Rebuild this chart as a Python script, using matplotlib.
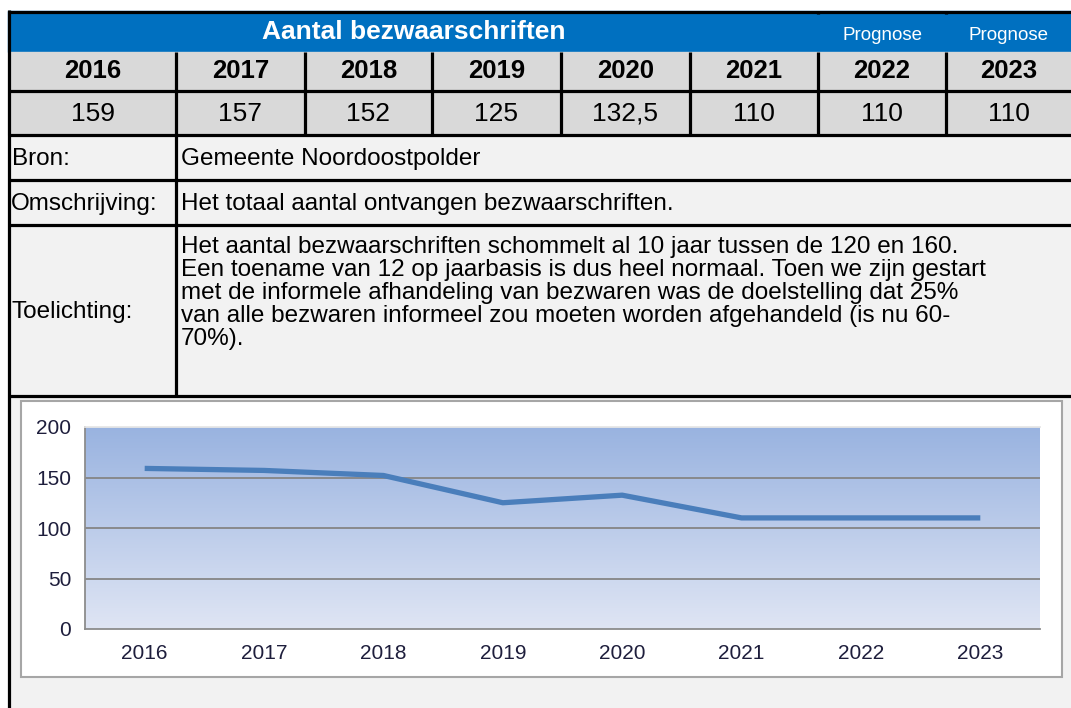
import matplotlib

matplotlib.use("Agg")

import matplotlib.pyplot as plt
import numpy as np
from matplotlib.colors import LinearSegmentedColormap
from matplotlib.patches import Rectangle

YEARS = ["2016", "2017", "2018", "2019", "2020", "2021", "2022", "2023"]
COUNTS = [159, 157, 152, 125, 132.5, 110, 110, 110]
COUNT_LABELS = ["159", "157", "152", "125", "132,5", "110", "110", "110"]
PROGNOSIS = [False, False, False, False, False, False, True, True]

TITLE = "Aantal bezwaarschriften"
SOURCE = "Gemeente Noordoostpolder"
DESCRIPTION = "Het totaal aantal ontvangen bezwaarschriften."
NOTE_LINES = [
    "Het aantal bezwaarschriften schommelt al 10 jaar tussen de 120 en 160.",
    "Een toename van 12 op jaarbasis is dus heel normaal. Toen we zijn gestart",
    "met de informele afhandeling van bezwaren was de doelstelling dat 25%",
    "van alle bezwaren informeel zou moeten worden afgehandeld (is nu 60-",
    "70%).",
]
Y_TICKS = [0, 50, 100, 150, 200]

W, H = 1071, 708
COL_EDGES = [10, 176, 305, 432, 561, 690, 818, 946, 1071]
LABEL_COL = 176
FONT = "Liberation Sans"
BLACK_LW = 2.3
BODY = 17.5


def hline(ax, y, x0=8, x1=W):
    ax.plot([x0, x1], [y, y], color="black", lw=BLACK_LW, solid_capstyle="butt", zorder=5)


def vline(ax, x, y0, y1):
    ax.plot([x, x], [y0, y1], color="black", lw=BLACK_LW, solid_capstyle="butt", zorder=5)


def main() -> None:
    fig = plt.figure(figsize=(W / 100, H / 100), dpi=100)
    fig.patch.set_facecolor("white")

    bg = fig.add_axes([0, 0, 1, 1])
    bg.set_xlim(0, W)
    bg.set_ylim(H, 0)
    bg.axis("off")

    # cell fills
    bg.add_patch(Rectangle((8, 11), W, 41, color="#0070c0", zorder=1))
    bg.add_patch(Rectangle((8, 52), W, 83, color="#d9d9d9", zorder=1))
    bg.add_patch(Rectangle((8, 135), W, H - 135, color="#f2f2f2", zorder=1))

    # grid of black lines
    hline(bg, 11.5)
    hline(bg, 91)
    hline(bg, 134.5)
    hline(bg, 180)
    hline(bg, 224.5)
    hline(bg, 395.5)
    vline(bg, 8.5, 10, H)
    for x in COL_EDGES[1:-1]:
        vline(bg, x, 52, 134.5)
    for x in (818, 946):
        vline(bg, x, 11, 14)
    vline(bg, LABEL_COL, 134.5, 395.5)

    # header
    bg.text((10 + 818) / 2, 39, TITLE, color="white", fontsize=19,
            fontweight="bold", family=FONT, ha="center", va="baseline", zorder=6)
    for i, prog in enumerate(PROGNOSIS):
        if prog:
            xc = (COL_EDGES[i] + COL_EDGES[i + 1]) / 2
            bg.text(xc, 39.5, "Prognose", color="white", fontsize=13.5,
                    family=FONT, ha="center", va="baseline", zorder=6)

    for i, (yr, lab) in enumerate(zip(YEARS, COUNT_LABELS)):
        xc = (COL_EDGES[i] + COL_EDGES[i + 1]) / 2
        bg.text(xc, 71.5, yr, fontsize=18.5, fontweight="bold", family=FONT,
                ha="center", va="center", zorder=6)
        bg.text(xc, 114, lab, fontsize=19, family=FONT,
                ha="center", va="center", zorder=6)

    bg.text(12, 165, "Bron:", fontsize=BODY, family=FONT, ha="left", va="baseline", zorder=6)
    bg.text(181, 165, SOURCE, fontsize=BODY, family=FONT, ha="left", va="baseline", zorder=6)
    bg.text(10.5, 210, "Omschrijving:", fontsize=BODY, family=FONT, ha="left", va="baseline", zorder=6)
    bg.text(181, 210, DESCRIPTION, fontsize=BODY, family=FONT, ha="left", va="baseline", zorder=6)
    bg.text(12, 318, "Toelichting:", fontsize=BODY, family=FONT, ha="left", va="baseline", zorder=6)
    for k, line in enumerate(NOTE_LINES):
        bg.text(181, 253.5 + k * 22.8, line, fontsize=BODY, family=FONT,
                ha="left", va="baseline", zorder=6)

    # chart frame
    bg.add_patch(Rectangle((20.5, 400.5), 1041, 276, facecolor="white",
                           edgecolor="#a6a6a6", lw=1.5, zorder=2))

    ax = fig.add_axes([85 / W, (H - 629) / H, 955 / W, 202 / H])
    ax.set_zorder(3)
    x = np.arange(len(YEARS))
    ax.set_xlim(-0.5, len(YEARS) - 0.5)
    ax.set_ylim(0, 200)

    grad = LinearSegmentedColormap.from_list("g", ["#dfe5f4", "#99b3e0"])
    ax.imshow(np.linspace(0, 1, 256).reshape(-1, 1), cmap=grad, origin="lower",
              extent=[-0.5, len(YEARS) - 0.5, 0, 200], aspect="auto", zorder=0)
    for t in Y_TICKS[1:-1]:
        ax.axhline(t, color="#858585", lw=1.3, zorder=1)

    ax.plot(x, COUNTS, color="#4a7ebb", lw=3.8, solid_capstyle="butt",
            solid_joinstyle="round", zorder=3)

    ax.set_xticks(x)
    ax.set_xticklabels(YEARS)
    ax.set_yticks(Y_TICKS)
    ax.tick_params(length=0, labelsize=15, labelcolor="#1e1e3c")
    ax.tick_params(axis="y", pad=10)
    ax.tick_params(axis="x", pad=10.5)
    for lbl in ax.get_xticklabels() + ax.get_yticklabels():
        lbl.set_family(FONT)
    for side in ("left", "bottom"):
        ax.spines[side].set_color("#8c8c8c")
        ax.spines[side].set_linewidth(1.3)
    ax.spines["top"].set_color("#e6e6e6")
    ax.spines["top"].set_linewidth(1.3)
    ax.spines["right"].set_visible(False)

    fig.savefig("out.png", dpi=100)


if __name__ == "__main__":
    main()
